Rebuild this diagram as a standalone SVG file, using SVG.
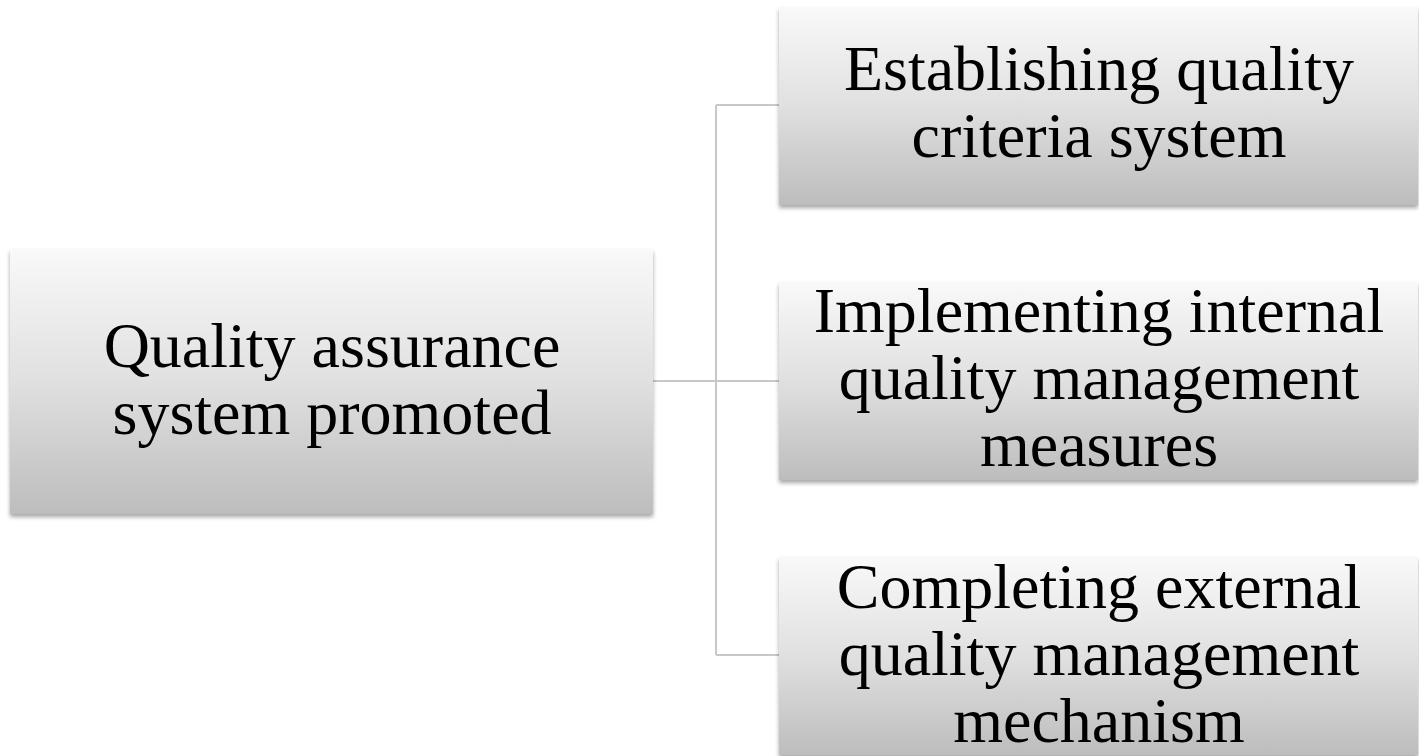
<svg xmlns="http://www.w3.org/2000/svg" width="1419" height="756" viewBox="0 0 1419 756">
<defs>
<linearGradient id="g" x1="0" y1="0" x2="0" y2="1">
<stop offset="0" stop-color="#f9f9f9"/>
<stop offset="0.5" stop-color="#e0e0e0"/>
<stop offset="1" stop-color="#bdbdbd"/>
</linearGradient>
<filter id="sh" x="-5%" y="-5%" width="110%" height="115%">
<feGaussianBlur in="SourceAlpha" stdDeviation="2"/>
<feOffset dx="0" dy="3" result="b"/>
<feComponentTransfer><feFuncA type="linear" slope="0.35"/></feComponentTransfer>
<feMerge><feMergeNode/><feMergeNode in="SourceGraphic"/></feMerge>
</filter>
</defs>
<style>
.box{fill:url(#g);filter:url(#sh)}
.t{font-family:"Liberation Serif","Times New Roman",serif;font-size:64px;fill:#000;text-anchor:middle}
.c{fill:none;stroke:#c8c8c8;stroke-width:2}
</style>
<rect width="1419" height="756" fill="#ffffff"/>
<g id="connectors">
<path class="c" d="M653 381 H779 M716 105 V655 M716 105 H779 M716 655 H779"/>
</g>
<g id="root">
<rect class="box" x="10" y="249" width="643" height="265"/>
<text class="t" x="332" y="367">Quality assurance</text>
<text class="t" x="332" y="434">system promoted</text>
</g>
<g id="n1">
<rect class="box" x="779" y="7" width="639" height="198"/>
<text class="t" x="1099" y="90">Establishing quality</text>
<text class="t" x="1099" y="157">criteria system</text>
</g>
<g id="n2">
<rect class="box" x="779" y="282" width="639" height="198"/>
<text class="t" x="1099" y="332">Implementing internal</text>
<text class="t" x="1099" y="399">quality management</text>
<text class="t" x="1099" y="466">measures</text>
</g>
<g id="n3">
<rect class="box" x="779" y="557" width="639" height="198"/>
<text class="t" x="1099" y="608">Completing external</text>
<text class="t" x="1099" y="675">quality management</text>
<text class="t" x="1099" y="742">mechanism</text>
</g>
</svg>
